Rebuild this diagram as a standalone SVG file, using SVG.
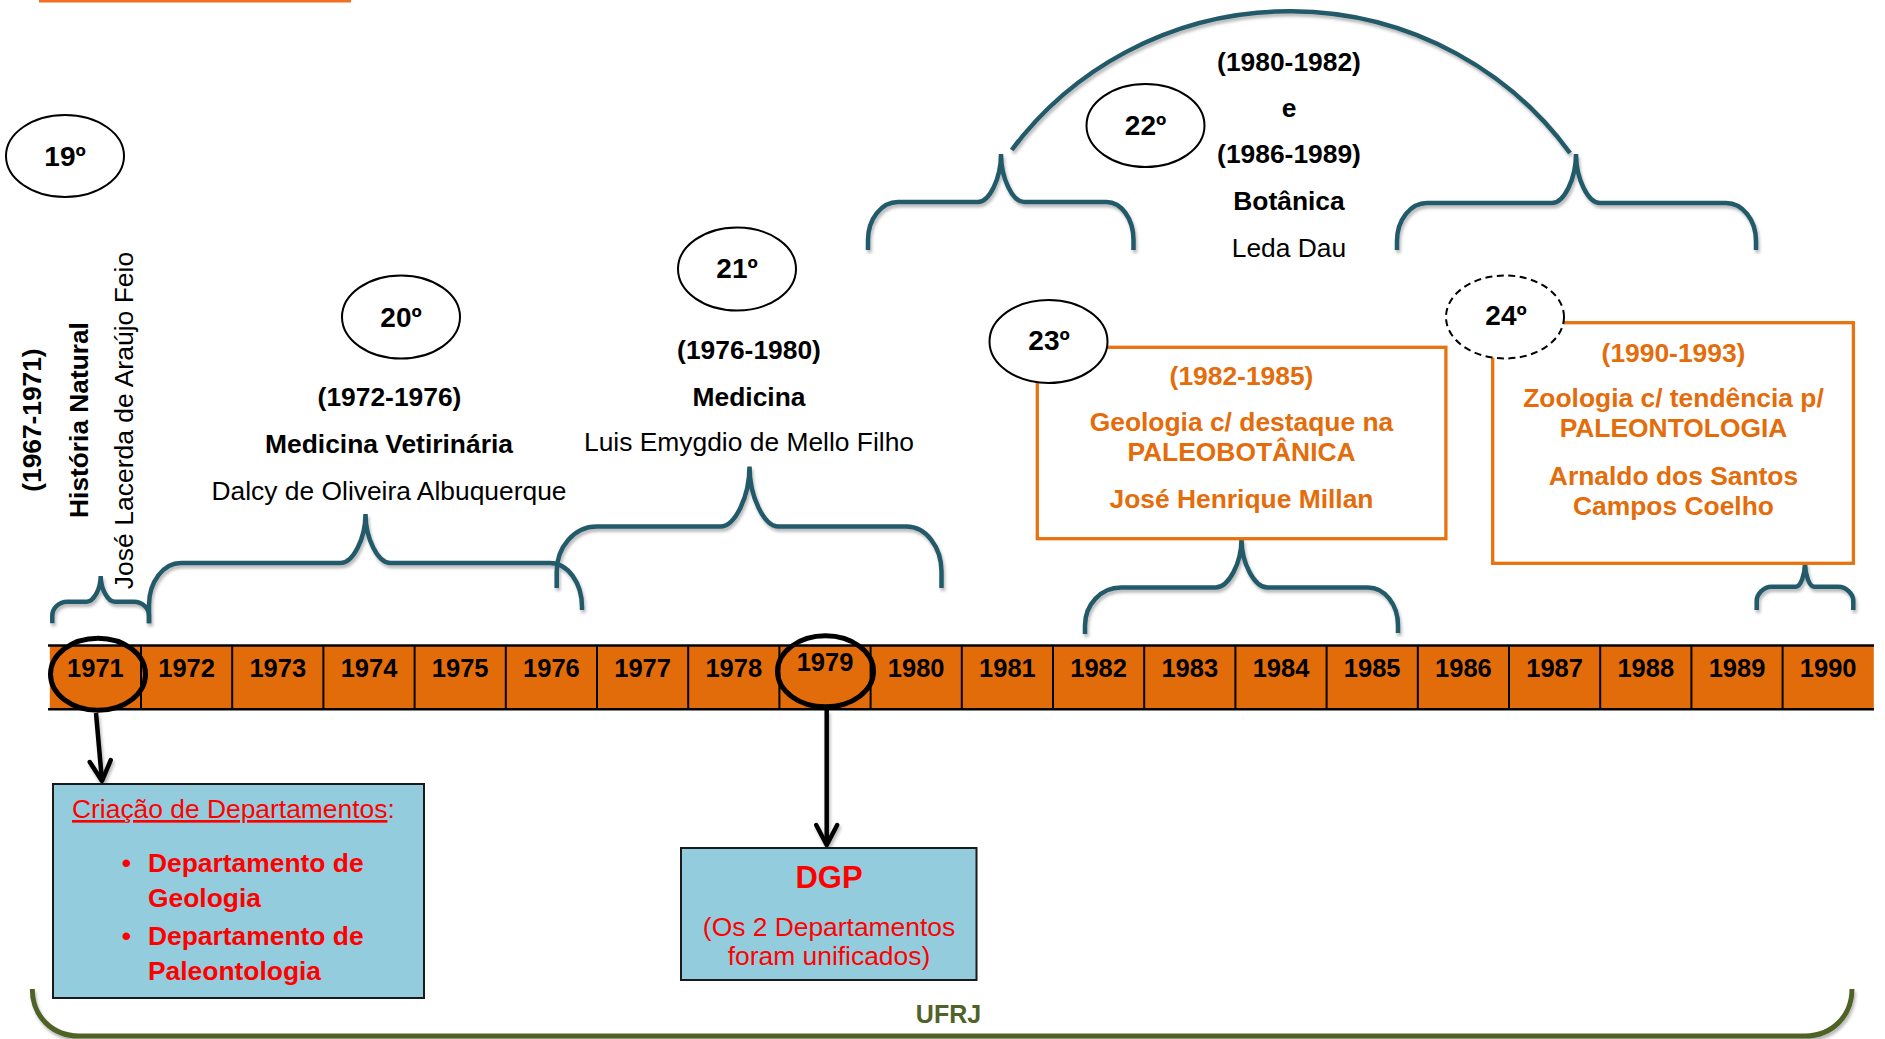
<svg xmlns="http://www.w3.org/2000/svg" width="1885" height="1039" viewBox="0 0 1885 1039">
<defs>
<style>
text{font-family:"Liberation Sans",Arial,Helvetica,sans-serif;fill:#000}
.b{font-weight:bold}
.t{font-size:26.4px;text-anchor:middle}
.o{fill:#E46C0A;font-weight:bold;font-size:26.4px;text-anchor:middle}
.r{fill:#FF0000;font-size:26.4px}
.yr{font-size:25.5px;font-weight:bold;text-anchor:middle}
.ord{font-size:28px;font-weight:bold;text-anchor:middle}
.ell{fill:#fff;stroke:#000;stroke-width:2}
.brace{fill:none;stroke:#235A69;stroke-width:4.5}
.obox{fill:#fff;stroke:#E8720E;stroke-width:3.3}
.bbox{fill:#93CDDD;stroke:#1a1a1a;stroke-width:2}
.arrow{fill:none;stroke:#000;stroke-width:4.5}
.div{stroke:#000;stroke-width:2}
</style>
<filter id="sh" x="-5%" y="-10%" width="110%" height="130%">
<feDropShadow dx="1.5" dy="3" stdDeviation="1.5" flood-color="#000" flood-opacity="0.28"/>
</filter>
<marker id="ah" markerUnits="userSpaceOnUse" viewBox="0 0 24 24" markerWidth="24" markerHeight="24" refX="21" refY="12" orient="auto" overflow="visible">
<path d="M1,1.5 L21,12 L1,22.5" fill="none" stroke="#000" stroke-width="4.5" stroke-linejoin="round" stroke-linecap="round"/>
</marker>
</defs>

<rect x="0" y="0" width="1885" height="1039" fill="#fff"/>
<rect x="39" y="0" width="312" height="2.5" fill="#F26F21"/>

<!-- Connectors -->
<g id="connectors">
<g class="brace" filter="url(#sh)">
<path d="M52.3,623.3 L52.3,615.7 C52.3,608 59,601.7 67.3,601.7 L86.7,601.7 C93.7,601.7 100.7,588.9 100.7,576 C100.7,588.9 107.7,601.7 114.7,601.7 L134,601.7 C142.3,601.7 149,608 149,615.7 L149,623.3"/>
<path d="M149,623.3 L149,605 C149,581.8 163.3,563 181,563 L340.5,563 C353,563 365.5,538.5 365.5,514 C365.5,538.5 378,563 390.5,563 L550,563 C567.7,563 582,582.7 582,607 L582,610"/>
<path d="M556.7,588 L556.7,571.6 C556.7,546.8 574.6,526.6 596.7,526.6 L720.5,526.6 C735,526.6 749.5,496.6 749.5,466.6 C749.5,496.6 764,526.6 778.5,526.6 L906.5,526.6 C925.8,526.6 941.5,546.8 941.5,571.6 L941.5,588"/>
<path d="M868,250 L868,240 C868,219 881.4,202 898,202 L978,202 C989.5,202 1001,178 1001,154 C1001,178 1012.5,202 1024,202 L1106.5,202 C1121.4,202 1133.5,219 1133.5,240 L1133.5,250"/>
<path d="M1397,250 L1397,241 C1397,220 1410.4,203 1427,203 L1552,203 C1564,203 1576,178.5 1576,154 C1576,178.5 1588,203 1600,203 L1726,203 C1742.6,203 1756,220 1756,241 L1756,250"/>
<path d="M1011.7,150 A345,340 0 0 1 1570,153"/>
<path d="M1085,634 L1085,625.5 C1085,604.5 1101,587.5 1121,587.5 L1215.5,587.5 C1228.5,587.5 1241.5,563.3 1241.5,539 C1241.5,563.3 1254.5,587.5 1267.5,587.5 L1368,587.5 C1384.6,587.5 1398,604.5 1398,625.5 L1398,633"/>
<path d="M1756.7,610 L1756.7,600.7 C1756.7,594.4 1763.4,586.7 1771.7,586.7 L1796,586.7 C1800.5,586.7 1805,574.9 1805,563 C1805,574.9 1809.5,586.7 1814,586.7 L1838.3,586.7 C1846.6,586.7 1853.3,594.4 1853.3,600.7 L1853.3,610"/>
</g>
<g class="arrow" filter="url(#sh)">
<line x1="96" y1="713" x2="102" y2="781" marker-end="url(#ah)"/>
<line x1="826.7" y1="710" x2="826.7" y2="845" marker-end="url(#ah)"/>
</g>
<path d="M32.3,989 C32.3,1016 52,1036 79,1036 L1805,1036 C1832,1036 1852,1016 1852,989" fill="none" stroke="#4F6228" stroke-width="5" filter="url(#sh)"/>
</g>

<!-- Timeline -->
<g id="timeline">
<rect x="49.8" y="645" width="1824" height="64.5" fill="#E36C0A"/>
<line x1="48" y1="645.5" x2="1874" y2="645.5" stroke="#000" stroke-width="2.5"/>
<line x1="48" y1="709.3" x2="1874" y2="709.3" stroke="#000" stroke-width="2.5"/>
<g class="div">
<line x1="141" y1="645" x2="141" y2="709"/>
<line x1="232.2" y1="645" x2="232.2" y2="709"/>
<line x1="323.4" y1="645" x2="323.4" y2="709"/>
<line x1="414.6" y1="645" x2="414.6" y2="709"/>
<line x1="505.8" y1="645" x2="505.8" y2="709"/>
<line x1="597" y1="645" x2="597" y2="709"/>
<line x1="688.2" y1="645" x2="688.2" y2="709"/>
<line x1="779.4" y1="645" x2="779.4" y2="709"/>
<line x1="870.6" y1="645" x2="870.6" y2="709"/>
<line x1="961.8" y1="645" x2="961.8" y2="709"/>
<line x1="1053" y1="645" x2="1053" y2="709"/>
<line x1="1144.2" y1="645" x2="1144.2" y2="709"/>
<line x1="1235.4" y1="645" x2="1235.4" y2="709"/>
<line x1="1326.6" y1="645" x2="1326.6" y2="709"/>
<line x1="1417.8" y1="645" x2="1417.8" y2="709"/>
<line x1="1509" y1="645" x2="1509" y2="709"/>
<line x1="1600.2" y1="645" x2="1600.2" y2="709"/>
<line x1="1691.4" y1="645" x2="1691.4" y2="709"/>
<line x1="1782.6" y1="645" x2="1782.6" y2="709"/>
</g>
<g class="yr">
<text x="95.4" y="677">1971</text>
<text x="186.6" y="677">1972</text>
<text x="277.8" y="677">1973</text>
<text x="369" y="677">1974</text>
<text x="460.2" y="677">1975</text>
<text x="551.4" y="677">1976</text>
<text x="642.6" y="677">1977</text>
<text x="733.8" y="677">1978</text>
<text x="825" y="670.7">1979</text>
<text x="916.2" y="677">1980</text>
<text x="1007.4" y="677">1981</text>
<text x="1098.6" y="677">1982</text>
<text x="1189.8" y="677">1983</text>
<text x="1281" y="677">1984</text>
<text x="1372.2" y="677">1985</text>
<text x="1463.4" y="677">1986</text>
<text x="1554.6" y="677">1987</text>
<text x="1645.8" y="677">1988</text>
<text x="1737" y="677">1989</text>
<text x="1828.2" y="677">1990</text>
</g>
<ellipse cx="98" cy="674.3" rx="47.5" ry="36" fill="none" stroke="#000" stroke-width="5"/>
<ellipse cx="825.5" cy="671.3" rx="48" ry="35.5" fill="none" stroke="#000" stroke-width="5"/>
</g>

<!-- 19 -->
<g id="node-19">
<ellipse class="ell" cx="65" cy="156" rx="59" ry="41"/>
<text class="ord" x="65" y="166">19º</text>
<text class="b" font-size="26.3" text-anchor="middle" transform="translate(41.3,420) rotate(-90)">(1967-1971)</text>
<text class="b" font-size="26.3" text-anchor="middle" transform="translate(88,420) rotate(-90)">História Natural</text>
<text font-size="26.5" text-anchor="middle" transform="translate(133,420.5) rotate(-90)">José Lacerda de Araújo Feio</text>
</g>

<!-- 20 -->
<g id="node-20">
<ellipse class="ell" cx="401" cy="317" rx="59" ry="41.5"/>
<text class="ord" x="401" y="326.5">20º</text>
<text class="t b" x="389.5" y="406">(1972-1976)</text>
<text class="t b" x="389" y="453">Medicina Vetirinária</text>
<text class="t" x="389" y="500">Dalcy de Oliveira Albuquerque</text>
</g>

<!-- 21 -->
<g id="node-21">
<ellipse class="ell" cx="737" cy="269" rx="59" ry="41.5"/>
<text class="ord" x="737" y="277.5">21º</text>
<text class="t b" x="749" y="359">(1976-1980)</text>
<text class="t b" x="749" y="406">Medicina</text>
<text class="t" x="749" y="451">Luis Emygdio de Mello Filho</text>
</g>

<!-- 22 -->
<g id="node-22">
<ellipse class="ell" cx="1145.5" cy="125.5" rx="59" ry="41.5"/>
<text class="ord" x="1145.5" y="135">22º</text>
<text class="t b" x="1289" y="71">(1980-1982)</text>
<text class="t b" x="1289" y="116.7">e</text>
<text class="t b" x="1289" y="163.3">(1986-1989)</text>
<text class="t b" x="1289" y="210">Botânica</text>
<text class="t" x="1289" y="256.7">Leda Dau</text>
</g>

<!-- 23 -->
<g id="node-23">
<rect class="obox" x="1037.3" y="347.3" width="408.6" height="191.4"/>
<ellipse class="ell" cx="1048.5" cy="341.5" rx="59" ry="41.5"/>
<text class="ord" x="1049" y="350">23º</text>
<text class="o" x="1241.5" y="385">(1982-1985)</text>
<text class="o" x="1241.5" y="431">Geologia c/ destaque na</text>
<text class="o" x="1241.5" y="461">PALEOBOTÂNICA</text>
<text class="o" x="1241.5" y="508">José Henrique Millan</text>
</g>

<!-- 24 -->
<g id="node-24">
<rect class="obox" x="1492.7" y="322.7" width="360.7" height="240.6"/>
<ellipse class="ell" cx="1505" cy="317" rx="59" ry="41.5" stroke-dasharray="7,4.5"/>
<text class="ord" x="1506" y="325">24º</text>
<text class="o" x="1673.5" y="361.7">(1990-1993)</text>
<text class="o" x="1673.5" y="406.7">Zoologia c/ tendência p/</text>
<text class="o" x="1673.5" y="437.3">PALEONTOLOGIA</text>
<text class="o" x="1673.5" y="485">Arnaldo dos Santos</text>
<text class="o" x="1673.5" y="515">Campos Coelho</text>
</g>

<!-- 1971 box -->
<g id="box-1971">
<rect class="bbox" x="53" y="784" width="371" height="214"/>
<text class="r" x="72" y="818"><tspan text-decoration="underline">Criação de Departamentos</tspan>:</text>
<text class="r b" x="126.3" y="872" text-anchor="middle">•</text>
<text class="r b" x="148" y="872">Departamento de</text>
<text class="r b" x="148" y="907">Geologia</text>
<text class="r b" x="126.3" y="945" text-anchor="middle">•</text>
<text class="r b" x="148" y="945">Departamento de</text>
<text class="r b" x="148" y="980">Paleontologia</text>
</g>

<!-- 1979 box -->
<g id="box-1979">
<rect class="bbox" x="681" y="848" width="295.5" height="132"/>
<text class="b" x="829" y="888" font-size="31" text-anchor="middle" fill="#FF0000" style="fill:#FF0000">DGP</text>
<text class="r" x="829" y="936" text-anchor="middle">(Os 2 Departamentos</text>
<text class="r" x="829" y="965" text-anchor="middle">foram unificados)</text>
</g>

<g id="ufrj">
<text class="b" x="948.5" y="1023" font-size="25" text-anchor="middle" style="fill:#4F6228">UFRJ</text>
</g>
</svg>
